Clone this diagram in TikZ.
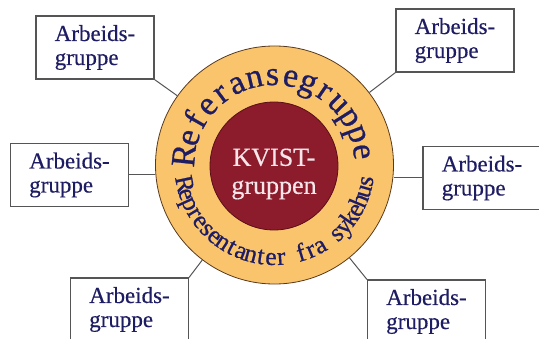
\documentclass[tikz,border=0pt]{standalone}
\usepackage{fontspec}
\setmainfont{Liberation Serif}
\newfontfamily\heavyserif{Liberation Serif}[FakeBold=0.7]
\newfontfamily\midserif{Liberation Serif}[FakeBold=0.4]
\definecolor{ring}{HTML}{F9C46C}
\definecolor{ringedge}{HTML}{5A3A1E}
\definecolor{kvist}{HTML}{8C1C2C}
\definecolor{kvistedge}{HTML}{5A0E18}
\definecolor{navy}{HTML}{1E1C62}
\definecolor{kvisttext}{HTML}{F6E6EA}
\definecolor{boxgray}{HTML}{555555}
\newcommand\bigring{\heavyserif\fontsize{34}{34}\selectfont}
\newcommand\smallring{\heavyserif\fontsize{25.5}{25.5}\selectfont}
\begin{document}
\begin{tikzpicture}[x=1pt,y=1pt,
  box/.style={draw=boxgray, line width=1.1pt, fill=white, minimum width=118pt, minimum height=63pt,
    inner sep=0pt, align=left, text=navy, font=\midserif\fontsize{23}{24}\selectfont},
  link/.style={draw=boxgray, line width=1pt},
  ringletter/.style={anchor=base, inner sep=0pt, text=navy}]
\useasboundingbox (0,0) rectangle (539,338);
\clip (0,0) rectangle (539,338);
% boxes
\node[box] (tl) at (95,290.5) {Arbeids-\\gruppe};
\node[box] (tr) at (455,297.5) {Arbeids-\\gruppe};
\node[box] (ml) at (69.5,163) {Arbeids-\\gruppe};
\node[box] (mr) at (482,160) {Arbeids-\\gruppe};
\node[box] (bl) at (129.5,28.5) {Arbeids-\\gruppe};
\node[box] (br) at (426.5,26.5) {Arbeids-\\gruppe};
% circles
\node[circle, draw=ringedge, fill=ring, line width=0.8pt, minimum size=238pt, inner sep=0pt] (outer) at (274.5,173) {};
\node[circle, draw=kvistedge, fill=kvist, line width=0.8pt, minimum size=128pt, inner sep=0pt] (inner) at (274,172) {};
\node[text=kvisttext, align=center, font=\midserif\fontsize{26}{28}\selectfont] (kv) at (274,164) {KVIST-\\gruppen};
% connectors
\draw[link] (tl.south east) -- (outer);
\draw[link] (tr.south west) -- (outer);
\draw[link] (ml.east) -- (outer.west |- ml.east);
\draw[link] (mr.west) -- (outer.east |- mr.west);
\draw[link] (bl.north east) -- (outer);
\draw[link] (br.north west) -- (outer);
% ring texts
\coordinate (c) at (274.5,173);
% upper arc: Referansegruppe, clockwise from 174 to 8.6 deg, baseline radius 80
\setbox0\hbox{\bigring Referansegruppe}
\pgfmathsetmacro\totw{\the\wd0}
\pgfmathsetmacro\trk{((174-8.6)*pi/180*80 - \totw)/14}
\xdef\pos{0}
\foreach \ch [count=\i] in {R,e,f,e,r,a,n,s,e,g,r,u,p,p,e} {
  \setbox0\hbox{\bigring\ch}
  \pgfmathsetmacro\w{\the\wd0}
  \pgfmathsetmacro\ang{174 - (\pos + 0.5*\w)/80*180/pi}
  \node[ringletter, font=\bigring, rotate=\ang-90] (rt\i) at ([shift={(\ang:80)}]c) {\ch};
  \pgfmathsetmacro\np{\pos + \w + \trk}
  \xdef\pos{\np}
}
% lower arc: Representanter fra sykehus, counterclockwise from 192 to 350 deg, baseline radius 100
\setbox0\hbox{\smallring Representanter fra sykehus}
\pgfmathsetmacro\totw{\the\wd0}
\pgfmathsetmacro\trk{((350-192)*pi/180*100 - \totw)/25}
\xdef\pos{0}
\foreach \ch [count=\i] in {R,e,p,r,e,s,e,n,t,a,n,t,e,r,\space,f,r,a,\space,s,y,k,e,h,u,s} {
  \setbox0\hbox{\smallring\ch}
  \pgfmathsetmacro\w{\the\wd0}
  \pgfmathsetmacro\ang{192 + (\pos + 0.5*\w)/100*180/pi}
  \node[ringletter, font=\smallring, rotate=\ang+90] (rb\i) at ([shift={(\ang:100)}]c) {\ch};
  \pgfmathsetmacro\np{\pos + \w + \trk}
  \xdef\pos{\np}
}
\end{tikzpicture}
\end{document}
